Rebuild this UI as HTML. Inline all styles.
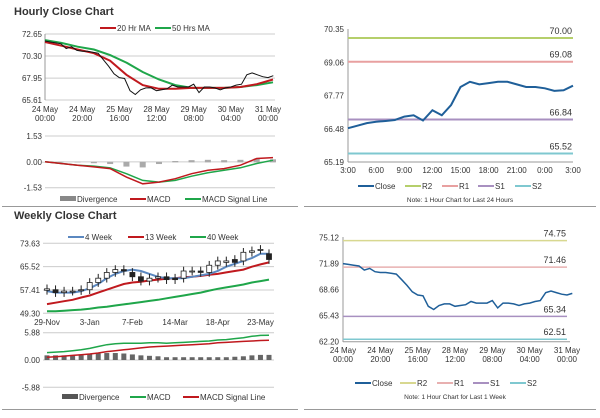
<!DOCTYPE html>
<html><head><meta charset="utf-8"><style>
body{margin:0;background:#fff;width:600px;height:413px;overflow:hidden;font-family:"Liberation Sans",sans-serif}
svg text{font-family:"Liberation Sans",sans-serif;fill:#333}
</style></head><body>
<svg id="s" width="600" height="413">
<text x="14" y="15" font-size="11" font-weight="bold" fill="#111">Hourly Close Chart</text>
<text x="14" y="219" font-size="11" font-weight="bold" fill="#111">Weekly Close Chart</text>
<line x1="2" y1="206.5" x2="298" y2="206.5" stroke="#999"/>
<line x1="304" y1="206.5" x2="596" y2="206.5" stroke="#999"/>
<line x1="2" y1="409.5" x2="298" y2="409.5" stroke="#999"/>
<line x1="304" y1="409.5" x2="596" y2="409.5" stroke="#999"/>
</svg>
<script>
// ---- data ----
const hourlyClose=[71.9,71.8,71.7,71.6,71.1,71.3,70.9,70.8,70.8,70.7,70.6,69.9,69.2,68.4,68.0,67.9,66.6,66.2,66.7,66.9,66.9,66.6,66.7,66.8,67.2,67.0,67.0,67.0,67.3,66.4,67.0,67.0,66.9,66.7,66.9,67.0,67.2,67.3,68.3,68.5,68.3,68.1,68.0,68.2];
const ma20=[71.8,71.4,71.0,70.6,69.8,68.3,67.2,66.8,66.8,66.9,66.9,66.9,67.0,67.3,67.8];
const ma50=[72.0,71.7,71.3,71.0,70.4,69.6,68.6,67.8,67.2,66.9,66.9,66.9,67.0,67.2,67.5];
const hMacd=[0,-0.1,-0.2,-0.3,-0.4,-0.9,-1.3,-1.2,-1.0,-0.7,-0.5,-0.4,-0.2,0.2,0.25];
const hSignal=[0,-0.1,-0.2,-0.25,-0.35,-0.7,-1.1,-1.2,-1.1,-0.85,-0.65,-0.5,-0.35,-0.1,0.1];
const hDiv=[0,0,0,-0.05,-0.1,-0.25,-0.3,-0.1,0.05,0.1,0.12,0.1,0.12,0.2,0.15];
const hourlyTicks=["24 May|00:00","24 May|20:00","25 May|16:00","28 May|12:00","29 May|08:00","30 May|04:00","31 May|00:00"];
const dayClose=[66.5,66.6,66.7,66.75,66.78,66.82,66.95,67.0,66.8,67.2,67.0,67.4,68.1,68.3,68.2,68.25,68.3,68.3,68.2,68.1,68.1,68.05,67.95,67.97,68.15];
const dayTicks=["3:00","6:00","9:00","12:00","15:00","18:00","21:00","0:00","3:00"];
const dayLevels=[70.00,69.08,66.84,65.52];
const weekLevels=[74.75,71.46,65.34,62.51];
const wClose=[57.8,56.5,57,57,57.5,60,61.5,63.5,64.5,64,62,60.5,61.5,62,61,61,64,64,63.5,66,67.5,67.5,67,70.5,71,71.5,68];
const wOpen=[57.3,57.5,56.5,57,57.2,57.5,60,61.5,63.5,64.5,63.5,62,60.5,61.5,62,61.5,61.5,64,64,63.5,66,67,68,67.5,70.5,71.5,70];
const w4=[57,56.5,56.5,56.5,57,58,59.5,61.5,63,64,64.5,64,63,62,61.5,61.5,61.5,62,62.5,63,64,65.5,66.5,67.5,68.5,70,70];
const w13=[52.5,53,53.5,54,54.8,55.5,56.5,57.5,58.5,59.5,60,60.3,60.7,61,61.3,61.5,61.8,62,62.3,62.7,63,63.5,64,64.5,65.5,66.3,67];
const w40=[50,50,50.2,50.4,50.6,50.9,51.3,51.6,52,52.4,52.8,53.2,53.6,54,54.5,55,55.5,56,56.5,57.2,57.8,58.3,58.8,59.3,60,60.5,61];
const wMacd=[1.6,1.7,1.8,2.0,2.2,2.5,2.9,3.3,3.5,3.6,3.6,3.6,3.7,3.7,3.6,3.7,3.8,3.9,4.0,4.1,4.3,4.4,4.6,4.8,5.1,5.3,5.35];
const wSignal=[0.6,0.7,0.85,1.0,1.15,1.3,1.5,1.8,2.0,2.2,2.4,2.6,2.8,2.9,3.0,3.1,3.2,3.3,3.4,3.5,3.7,3.8,3.9,4.0,4.1,4.2,4.25];
const wDiv=[1.0,1.0,1.0,1.0,1.05,1.2,1.4,1.5,1.5,1.4,1.2,1.0,0.9,0.8,0.6,0.6,0.6,0.6,0.6,0.6,0.6,0.6,0.7,0.8,1.0,1.1,1.1];
const weekTicks=["29-Nov","3-Jan","7-Feb","14-Mar","18-Apr","23-May"];
const tickYHourly=["72.65","70.30","67.95","65.61"];
const tickYMacdH=["1.53","0.00","-1.53"];
const tickYDay=["70.35","69.06","67.77","66.48","65.19"];
const tickYWeekly=["73.63","65.52","57.41","49.30"];
const tickYMacdW=["5.88","0.00","-5.88"];
const tickYWeek=["75.12","71.89","68.66","65.43","62.20"];

const S=document.getElementById('s'),NS='http://www.w3.org/2000/svg';
function el(t,a,txt){const e=document.createElementNS(NS,t);for(const k in a)e.setAttribute(k,a[k]);if(txt!==undefined)e.textContent=txt;S.appendChild(e);return e;}
function lin(d0,d1,r0,r1){return v=>r0+(v-d0)/(d1-d0)*(r1-r0);}
function path(vals,xf,yf,color,w,name){let d='';vals.forEach((v,i)=>{d+=(i?'L':'M')+xf(i).toFixed(1)+','+yf(v).toFixed(1);});
 const p=el('path',{d:d,fill:'none',stroke:color,'stroke-width':w});
 
 return p;}
function txt(x,y,s,size,anchor,name){const t=el('text',{x:x,y:y,'font-size':size,'text-anchor':anchor||'start'},s);
 
 return t;}
function yTicks(labels,x0,x1,yf,vals,name,grid){labels.forEach((l,i)=>{const y=yf(+l);
 if(grid){const g=el('line',{x1:x0,x2:x1,y1:y,y2:y,stroke:'#ccc','stroke-width':1});
 
 }
 txt(x0-3,y+3,l,8,'end',name+'-label');});}
function legend(items,y,name){items.forEach(it=>{
 if(it.bar){const r=el('rect',{x:it.x,y:y-3,width:16,height:5,fill:it.c});
 
 }
 else{const l=el('line',{x1:it.x,x2:it.x+16,y1:y,y2:y,stroke:it.c,'stroke-width':2});
 
 }
 txt(it.x+17,y+3,it.t,8,'start',name+'-entry');});}
const RED='#c0191e',GRN='#1fa64a',BLU='#1f5f99';

// ---- Panel 1: hourly ----
{const x=lin(0,42,45,268),y=lin(65.61,72.65,100,34);
 yTicks(tickYHourly,45,275,y,null,'hourly-y',true);
 const ax=el('line',{x1:45,x2:45,y1:34,y2:100,stroke:'#999'});
 hourlyTicks.forEach((l,i)=>{const xx=45+i*(223/6);const p=l.split('|');txt(xx,112,p[0],8,'middle','hourly-x-label');txt(xx,121,p[1],8,'middle','hourly-x-label');});
 const xm=lin(0,14,45,273);
 path(ma50,xm,y,GRN,2,'ma50-line');path(ma20,xm,y,RED,2,'ma20-line');
 path(hourlyClose,x,y,'#111',1,'hourly-close-line');
 legend([{x:100,c:RED,t:'20 Hr MA'},{x:155,c:GRN,t:'50 Hrs MA'}],28,'hourly-legend');
 const ym=lin(-1.53,1.53,187.7,136);
 yTicks(tickYMacdH,45,275,ym,null,'hourly-macd-y',true);
 hDiv.forEach((v,i)=>{const r=el('rect',{x:xm(i)-3,y:Math.min(ym(v),ym(0)),width:6,height:Math.abs(ym(v)-ym(0))+0.5,fill:'#aaa'});
 
 });
 path(hSignal,xm,ym,GRN,1.5,'hourly-signal-line');path(hMacd,xm,ym,RED,1.5,'hourly-macd-line');
 legend([{x:60,c:'#888',t:'Divergence',bar:1},{x:130,c:RED,t:'MACD'},{x:185,c:GRN,t:'MACD Signal Line'}],199,'hourly-macd-legend');}

// ---- Panel 2: 24h ----
{const x=lin(0,24,348,573),y=lin(65.19,70.35,162,29);
 tickYDay.forEach(l=>txt(344,y(+l)+3,l,8,'end','day-y-label'));
 const ax=el('line',{x1:348,x2:348,y1:29,y2:162,stroke:'#999'});
 const bx=el('line',{x1:348,x2:573,y1:162,y2:162,stroke:'#999'});
 dayTicks.forEach((l,i)=>txt(348+i*225/8,173,l,8,'middle','day-x-label'));
 const lc=['#b5cf6b','#e8a0a0','#a890c0','#7fc8d0'];
 dayLevels.forEach((v,i)=>{const l=el('line',{x1:348,x2:573,y1:y(v),y2:y(v),stroke:lc[i],'stroke-width':2});
 
 
 txt(572,y(v)-4,v.toFixed(2),9,'end','day-level-label');});
 path(dayClose,x,y,BLU,2,'day-close-line');
 legend([{x:358,c:BLU,t:'Close'},{x:405,c:lc[0],t:'R2'},{x:442,c:lc[1],t:'R1'},{x:478,c:lc[2],t:'S1'},{x:515,c:lc[3],t:'S2'}],186,'day-legend');
 txt(460,202,'Note: 1 Hour Chart for Last 24 Hours',6.5,'middle','day-note');}

// ---- Panel 3: weekly ----
{const x=lin(0,26,47,269),y=lin(49.30,73.63,313.3,243.3);
 yTicks(tickYWeekly,43,274,y,null,'weekly-y',true);
 weekTicks.forEach((l,i)=>txt(47+i*5*8.54,325,l,8,'middle','weekly-x-label'));
 path(w40,x,y,GRN,2,'week40-line');path(w13,x,y,RED,2,'week13-line');path(w4,x,y,'#5b88c0',2,'week4-line');
 wClose.forEach((c,i)=>{const o=wOpen[i],hi=Math.max(o,c)+1.5,lo=Math.min(o,c)-1.5;
 const w=el('line',{x1:x(i),x2:x(i),y1:y(hi),y2:y(lo),stroke:'#222'});
 
 
 const r=el('rect',{x:x(i)-2.5,y:y(Math.max(o,c)),width:5,height:Math.max(1,Math.abs(y(o)-y(c))),fill:c>=o?'#fff':'#222',stroke:'#222','stroke-width':0.8});
 
 });
 legend([{x:68,c:'#5b88c0',t:'4 Week'},{x:128,c:RED,t:'13 Week'},{x:190,c:GRN,t:'40 Week'}],237,'weekly-legend');
 const ym=lin(-5.88,5.88,387.3,332.7);
 yTicks(tickYMacdW,43,274,ym,null,'weekly-macd-y',true);
 wDiv.forEach((v,i)=>{const r=el('rect',{x:x(i)-2.5,y:ym(v),width:5,height:ym(0)-ym(v),fill:'#666'});
 
 });
 path(wMacd,x,ym,GRN,1.5,'weekly-macd-line');path(wSignal,x,ym,RED,1.5,'weekly-signal-line');
 legend([{x:62,c:'#555',t:'Divergence',bar:1},{x:130,c:GRN,t:'MACD'},{x:183,c:RED,t:'MACD Signal Line'}],397,'weekly-macd-legend');}

// ---- Panel 4: week hourly ----
{const x=lin(0,42,343,567),y=lin(62.20,75.12,341.7,237.7);
 tickYWeek.forEach(l=>txt(339,y(+l)+3,l,8,'end','week-y-label'));
 const ax=el('line',{x1:343,x2:343,y1:237,y2:342,stroke:'#999'});
 const bx=el('line',{x1:343,x2:570,y1:341.7,y2:341.7,stroke:'#999'});
 hourlyTicks.forEach((l,i)=>{const xx=343+i*224/6;const p=l.split('|');txt(xx,353,p[0],8,'middle','week-x-label');txt(xx,362,p[1],8,'middle','week-x-label');});
 const lc=['#d8d890','#e8b0b0','#a890c0','#7fc8d0'];
 weekLevels.forEach((v,i)=>{const l=el('line',{x1:343,x2:567,y1:y(v),y2:y(v),stroke:lc[i],'stroke-width':1.5});
 
 
 txt(566,y(v)-4,v.toFixed(2),9,'end','week-level-label');});
 path(hourlyClose,x,y,BLU,1.5,'week-close-line');
 legend([{x:355,c:BLU,t:'Close'},{x:400,c:lc[0],t:'R2'},{x:437,c:lc[1],t:'R1'},{x:473,c:lc[2],t:'S1'},{x:510,c:lc[3],t:'S2'}],383,'week-legend');
 txt(455,399,'Note: 1 Hour Chart for Last 1 Week',6.5,'middle','week-note');}
</script>
</body></html>
